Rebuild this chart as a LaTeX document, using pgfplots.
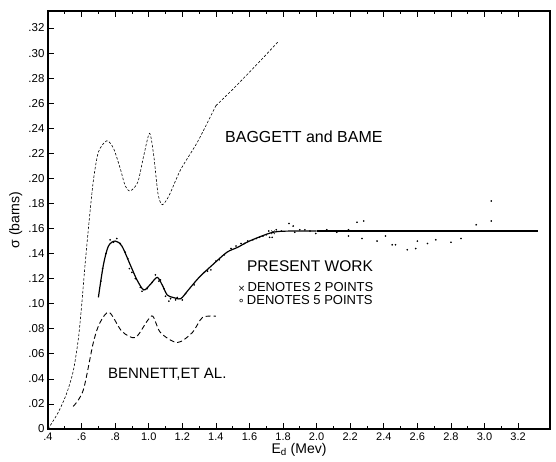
\documentclass[border=0pt]{standalone}
\usepackage{fontspec}
\setmainfont{Liberation Sans}
\newfontfamily\dejavu{DejaVu Sans}
\usepackage{pgfplots}
\pgfplotsset{compat=1.18}
\begin{document}
\begin{tikzpicture}
\begin{axis}[
  name=ax,
  scale only axis, width=502pt, height=418pt,
  xmin=0.4, xmax=3.39, ymin=0, ymax=0.3336,
  xtick={0.4,0.6,0.8,1.0,1.2,1.4,1.6,1.8,2.0,2.2,2.4,2.6,2.8,3.0,3.2},
  xticklabels={.4,.6,.8,1.0,1.2,1.4,1.6,1.8,2.0,2.2,2.4,2.6,2.8,3.0,3.2},
  minor x tick num=1,
  ytick={0,0.02,0.04,0.06,0.08,0.10,0.12,0.14,0.16,0.18,0.20,0.22,0.24,0.26,0.28,0.30,0.32},
  yticklabels={0,.02,.04,.06,.08,.10,.12,.14,.16,.18,.20,.22,.24,.26,.28,.30,.32},
  tick align=inside,
  xtick pos=both, ytick pos=left,
  major tick length=6pt, minor tick length=3pt,
  every tick/.style={black, line width=0.7pt},
  axis line style={line width=1.1pt},
  xticklabel style={font=\fontsize{11}{13}\selectfont},
  yticklabel style={font=\fontsize{11.5}{13}\selectfont},
  xlabel={E\textsubscript{d} (Mev)},
  ylabel={σ (barns)},
  xlabel style={font=\fontsize{14}{16}\selectfont, at={(axis description cs:0.5,-0.05)}, anchor=center},
  ylabel style={font=\fontsize{14}{16}\selectfont, at={(axis description cs:-0.064,0.5)}, anchor=center},
]
% Baggett and Bame
\addplot[black, line width=0.6pt, dash pattern=on 2.5pt off 1.8pt, smooth, tension=0.45] coordinates {
(0.40,0.000) (0.46,0.013) (0.51,0.028) (0.55,0.046) (0.58,0.071) (0.60,0.098)
(0.62,0.130) (0.645,0.166) (0.67,0.198) (0.70,0.221) (0.75,0.230) (0.79,0.224)
(0.83,0.208) (0.86,0.194) (0.89,0.190) (0.935,0.197) (0.97,0.218) (1.005,0.236)
(1.03,0.218) (1.055,0.188) (1.08,0.179) (1.12,0.186) (1.19,0.207) (1.29,0.229)
(1.40,0.258)
};
\addplot[black, line width=0.6pt, dash pattern=on 2.5pt off 1.8pt] coordinates {
(1.40,0.258) (1.50,0.271) (1.58,0.282) (1.68,0.296) (1.77,0.309)
};
% Bennett et al.
\addplot[black, line width=0.9pt, dash pattern=on 5pt off 3pt, smooth, tension=0.5] coordinates {
(0.55,0.018) (0.61,0.031) (0.67,0.069) (0.71,0.085) (0.765,0.093) (0.84,0.078)
(0.92,0.073) (0.99,0.086) (1.025,0.090) (1.07,0.077) (1.17,0.069) (1.26,0.077)
(1.32,0.089) (1.40,0.090)
};
% Present work curve
\addplot[black, line width=1.2pt, smooth, tension=0.5] coordinates {
(0.70,0.105) (0.73,0.131) (0.76,0.146) (0.80,0.150) (0.84,0.146) (0.89,0.131)
(0.93,0.119) (0.97,0.111) (1.007,0.115) (1.05,0.121) (1.08,0.115) (1.11,0.107)
(1.145,0.105) (1.19,0.104) (1.23,0.110) (1.30,0.121) (1.38,0.131) (1.465,0.141)
(1.53,0.145) (1.60,0.150) (1.74,0.157) (1.86,0.158) (2.0,0.158)
};
\addplot[black, line width=1.2pt] coordinates {(2.0,0.158) (3.32,0.158)};
% data points
\addplot[only marks, mark=*, mark size=0.6pt, black] coordinates {
(0.715,0.118) (0.725,0.128) (0.745,0.140) (0.77,0.151) (0.79,0.149) (0.81,0.152)
(0.83,0.148) (0.86,0.141) (0.875,0.136) (0.885,0.128) (0.90,0.125) (0.92,0.120)
(0.95,0.113) (0.96,0.110) (0.99,0.112) (1.02,0.117) (1.04,0.123) (1.06,0.118)
(1.07,0.119) (1.09,0.112) (1.10,0.106) (1.12,0.102) (1.13,0.104) (1.16,0.103)
(1.17,0.105) (1.20,0.103) (1.22,0.108) (1.27,0.115) (1.33,0.125) (1.35,0.126)
(1.37,0.127) (1.40,0.134) (1.42,0.135) (1.45,0.139) (1.49,0.144) (1.52,0.146)
(1.55,0.148) (1.57,0.148) (1.59,0.150) (1.62,0.151) (1.64,0.152) (1.66,0.153)
(1.68,0.154) (1.70,0.155) (1.715,0.158) (1.72,0.153) (1.735,0.153) (1.76,0.159)
(1.79,0.158) (1.835,0.164) (1.86,0.162) (1.87,0.157) (1.90,0.159) (1.93,0.159)
(1.96,0.158) (1.995,0.156) (2.03,0.158) (2.06,0.159) (2.10,0.158) (2.12,0.157)
(2.19,0.159) (2.19,0.154) (2.24,0.165) (2.28,0.166) (2.27,0.152) (2.36,0.150)
(2.41,0.154) (2.45,0.147) (2.47,0.147) (2.54,0.143) (2.59,0.144) (2.60,0.150)
(2.66,0.148) (2.71,0.151) (2.80,0.149) (2.86,0.152) (2.95,0.163) (3.04,0.182)
(3.04,0.166)
};
\addplot[only marks, mark=x, mark size=2.5pt, black, line width=0.6pt] coordinates {(1.74,0.157)};
\node[anchor=west, inner sep=0pt, font=\fontsize{16}{18}\selectfont] at (axis cs:1.454,0.2336) {BAGGETT and BAME};
\node[anchor=west, inner sep=0pt, font=\fontsize{15.5}{18}\selectfont] at (axis cs:1.585,0.130) {PRESENT WORK};
\node[anchor=west, inner sep=0pt, font=\fontsize{13}{15}\selectfont] at (axis cs:1.53,0.1136) {{\dejavu\fontsize{9}{10}\selectfont ×}\,DENOTES 2 POINTS};
\node[anchor=west, inner sep=0pt, font=\fontsize{13}{15}\selectfont] at (axis cs:1.53,0.103) {{\dejavu\fontsize{11}{10}\selectfont ∘}\,DENOTES 5 POINTS};
\node[anchor=west, inner sep=0pt, font=\fontsize{15}{17}\selectfont] at (axis cs:0.757,0.044) {BENNETT,ET AL.};
\end{axis}
\pgfresetboundingbox
\path[use as bounding box] ([shift={(-48pt,-33pt)}]ax.south west) rectangle ([shift={(6pt,11pt)}]ax.north east);
\end{tikzpicture}
\end{document}
